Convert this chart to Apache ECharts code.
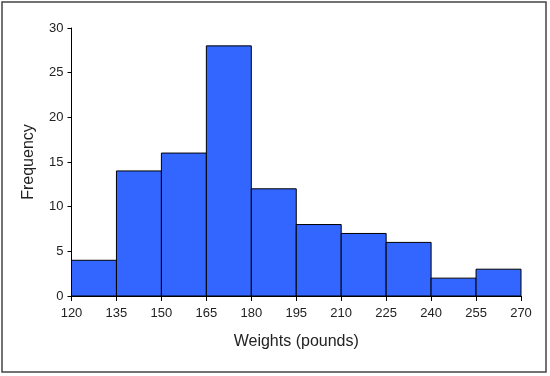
<!DOCTYPE html>
<html>
<head>
<meta charset="utf-8">
<script src="https://cdn.jsdelivr.net/npm/echarts@6/dist/echarts.min.js"></script>
<style>
  html, body { margin: 0; padding: 0; background: #fff; }
  #chart { width: 550px; height: 376px; }
</style>
</head>
<body>
<div id="chart"></div>
<script>
// bin edges (pounds) and counts per bin
const binStarts = [120, 135, 150, 165, 180, 195, 210, 225, 240, 255];
const binWidth = 15;
const counts = [4, 14, 16, 28, 12, 8, 7, 6, 2, 3];
const xTicks = [120, 135, 150, 165, 180, 195, 210, 225, 240, 255, 270];
const yTicks = [0, 5, 10, 15, 20, 25, 30];

const textColor = '#222';
const font = 'Liberation Sans, Arial, sans-serif';

const chart = echarts.init(document.getElementById('chart'));
chart.setOption({
    animation: false,
    graphic: [{
        type: 'rect',
        shape: { x: 2, y: 2, width: 544, height: 370 },
        style: { fill: 'none', stroke: '#444', lineWidth: 1.5 },
        silent: true
    }],
    grid: { left: 71.5, right: 29, top: 28, bottom: 80 },
    xAxis: {
        type: 'value',
        min: xTicks[0],
        max: xTicks[xTicks.length - 1],
        interval: binWidth,
        name: 'Weights (pounds)',
        nameLocation: 'middle',
        nameGap: 38,
        nameTextStyle: { color: textColor, fontSize: 16, fontFamily: font },
        axisLine: { show: true, lineStyle: { color: '#000', width: 1 } },
        axisTick: { show: true, length: 5, lineStyle: { color: '#000' } },
        axisLabel: { color: textColor, fontSize: 13, fontFamily: font, margin: 11 },
        splitLine: { show: false }
    },
    yAxis: {
        type: 'value',
        min: yTicks[0],
        max: yTicks[yTicks.length - 1],
        interval: 5,
        name: 'Frequency',
        nameLocation: 'middle',
        nameGap: 35,
        nameTextStyle: { color: textColor, fontSize: 16, fontFamily: font },
        axisLine: { show: true, lineStyle: { color: '#000', width: 1 } },
        axisTick: { show: true, length: 4, lineStyle: { color: '#000' } },
        axisLabel: { color: textColor, fontSize: 13, fontFamily: font, margin: 8 },
        splitLine: { show: false }
    },
    series: [{
        type: 'custom',
        data: binStarts.map((s, i) => [s, s + binWidth, counts[i]]),
        encode: { x: [0, 1], y: 2 },
        renderItem(params, api) {
            const p0 = api.coord([api.value(0), api.value(2)]);
            const p1 = api.coord([api.value(1), 0]);
            return {
                type: 'rect',
                shape: { x: p0[0], y: p0[1], width: p1[0] - p0[0], height: p1[1] - p0[1] },
                style: { fill: '#3366ff', stroke: '#000', lineWidth: 1 }
            };
        }
    }]
});
</script>
</body>
</html>
